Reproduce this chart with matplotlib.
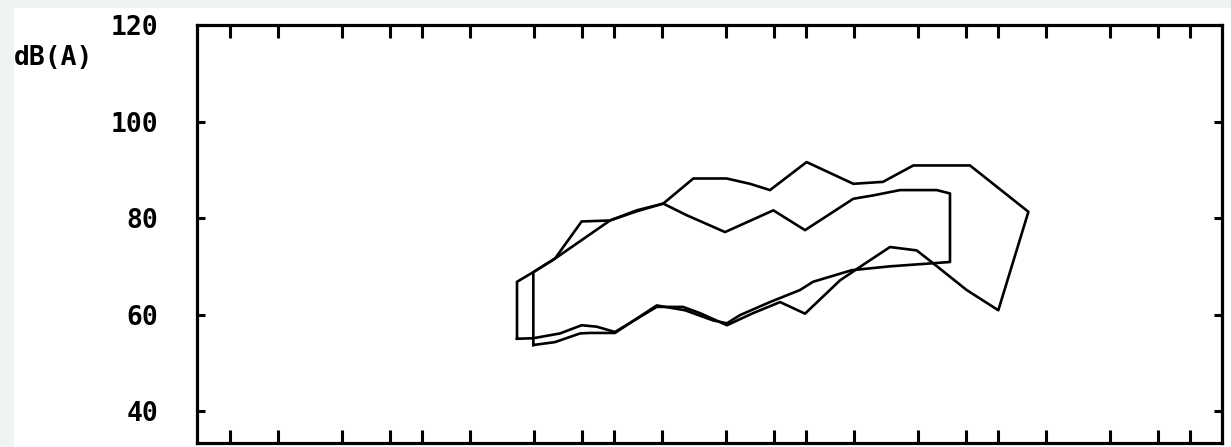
import matplotlib
matplotlib.use('Agg')
import matplotlib.pyplot as plt
from matplotlib.patches import Rectangle

# x positions are in band steps (16 px per step in the original), y in dB(A)
xtick_pos = [0, 3, 7, 10, 12, 15, 19, 22, 24, 27, 31, 34, 36, 39, 43, 46, 48, 51, 55, 58, 60]
ytick_vals = [40, 60, 80, 100, 120]

# loop A: upper edge left->right, lower edge right->left
loopA_x = [17.94, 17.94, 18.96, 20.31, 21.98, 23.75, 25.42, 27.08, 28.96, 31.04, 32.5, 33.75,
           36.04, 38.96, 40.81, 42.71, 46.25, 49.9,
           48.02, 46.04, 43.96, 42.92, 41.25, 39.38, 38.13, 35.94, 34.38, 32.69, 31.06,
           29.38, 28.31, 26.67, 24.06, 22.92, 21.98, 20.63, 18.94, 17.94]
loopA_y = [55.0, 66.8, 68.8, 71.6, 79.3, 79.5, 81.6, 83.0, 88.2, 88.2, 87.1, 85.8,
           91.6, 87.1, 87.5, 90.9, 90.9, 81.3,
           60.9, 65.1, 70.6, 73.3, 74.0, 69.9, 67.1, 60.2, 62.6, 60.3, 57.8,
           60.3, 61.6, 61.6, 56.4, 57.5, 57.8, 56.1, 55.1, 55.0]

# loop B
loopB_x = [18.96, 18.96, 20.31, 23.75, 25.42, 27.08, 28.54, 30.94, 33.96, 35.94, 38.96,
           40.21, 41.88, 44.17, 45.0, 45.0,
           41.25, 38.86, 36.44, 35.63, 33.75, 31.88, 31.06, 30.19, 28.44, 26.67,
           24.06, 22.5, 21.88, 20.31, 18.96]
loopB_y = [53.7, 68.8, 71.6, 79.5, 81.4, 83.0, 80.6, 77.1, 81.6, 77.5, 84.0,
           84.7, 85.8, 85.8, 85.1, 70.9,
           70.0, 69.2, 66.8, 65.1, 62.6, 59.9, 58.2, 58.8, 60.9, 61.9,
           56.2, 56.2, 56.1, 54.3, 53.7]

W, H = 1231, 447
fig = plt.figure(figsize=(W / 100, H / 100), dpi=100, facecolor='#eef4f4')
fig.patches.append(Rectangle((14 / W, 0), 1, 1 - 8 / H, transform=fig.transFigure,
                             facecolor='white', edgecolor='none', zorder=-10))

ax = fig.add_axes([197 / W, 4 / H, (1222 - 197) / W, (443 - 25) / H])
ax.set_zorder(5)
ax.plot(loopA_x, loopA_y, color='black', lw=1.9)
ax.plot(loopB_x, loopB_y, color='black', lw=1.9)

ax.set_xlim(-2.06, 62)
ax.set_ylim(33.4, 120)
ax.set_xticks(xtick_pos)
ax.set_xticklabels([])
ax.set_yticks(ytick_vals)
ax.set_yticklabels([str(v) for v in ytick_vals], family='DejaVu Sans Mono',
                   fontweight='bold', fontsize=19)
ax.tick_params(axis='x', direction='in', length=9.5, width=2.2, top=True, bottom=True)
ax.tick_params(axis='y', direction='in', length=5.5, width=2.2, left=True, right=True, pad=28)
for s in ax.spines.values():
    s.set_linewidth(2.3)

fig.text(14 / W, 1 - 58 / H, 'dB(A)', family='DejaVu Sans Mono', fontweight='bold',
         fontsize=19, ha='left', va='center', zorder=6)

plt.savefig('out.png', dpi=100, facecolor=fig.get_facecolor())
